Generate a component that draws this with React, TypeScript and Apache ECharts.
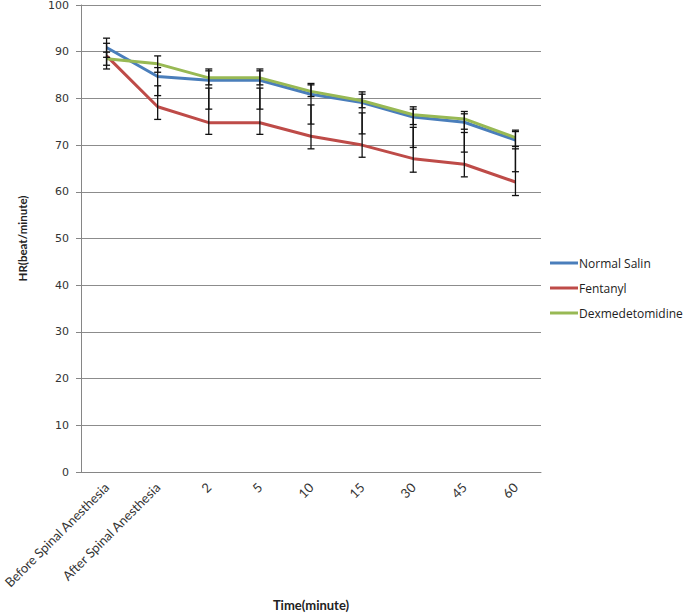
import React, { useEffect, useRef } from "react";
import * as echarts from "echarts";

const categories = [
  "Before Spinal Anesthesia",
  "After Spinal Anesthesia",
  "2",
  "5",
  "10",
  "15",
  "30",
  "45",
  "60",
];
const yTicks = { min: 0, max: 100, interval: 10 };

const normalSalin = [90.9, 84.7, 83.9, 83.9, 80.9, 79.1, 76.0, 74.9, 71.1];
const fentanyl = [89.1, 78.2, 74.8, 74.8, 71.9, 70.0, 67.1, 65.9, 62.1];
const dexmedetomidine = [88.5, 87.4, 84.4, 84.4, 81.5, 79.5, 76.5, 75.6, 71.6];

// error-bar ends (low / high)
const normalSalinLow = [88.8, 80.6, 77.7, 77.7, 74.5, 72.4, 69.5, 68.5, 64.3];
const normalSalinHigh = [92.9, 86.6, 85.9, 85.9, 82.9, 80.9, 77.7, 76.7, 72.9];
const fentanylLow = [86.3, 75.5, 72.3, 72.3, 69.2, 67.4, 64.2, 63.2, 59.2];
const fentanylHigh = [89.9, 82.7, 82.2, 82.2, 78.6, 76.9, 73.8, 72.7, 69.2];
const dexmedetomidineLow = [87.1, 85.6, 82.9, 82.9, 80.4, 78.0, 74.4, 73.4, 69.7];
const dexmedetomidineHigh = [91.8, 89.1, 86.3, 86.3, 83.2, 81.4, 78.2, 77.2, 73.2];

const seriesDefs = [
  { name: "Normal Salin", values: normalSalin, low: normalSalinLow, high: normalSalinHigh, color: "#4a7ebb" },
  { name: "Fentanyl", values: fentanyl, low: fentanylLow, high: fentanylHigh, color: "#be4b48" },
  { name: "Dexmedetomidine", values: dexmedetomidine, low: dexmedetomidineLow, high: dexmedetomidineHigh, color: "#98b954" },
];

export default function App() {
  const ref = useRef<HTMLDivElement>(null);

  useEffect(() => {
    if (!ref.current) return;
    const chart = echarts.init(ref.current, null, { renderer: "svg" });

    const lineSeries = seriesDefs.map((s) => ({
      name: s.name,
      type: "line",
      data: s.values,
      showSymbol: false,
      symbol: "none",
      lineStyle: { color: s.color, width: 3 },
      itemStyle: { color: s.color },
      z: 2,
    }));

    const errSeries = seriesDefs.map((s) => ({
      name: s.name + " error",
      type: "custom",
      z: 5,
      data: s.values.map((v, i) => [i, s.low[i], s.high[i]]),
      encode: { x: 0, y: [1, 2] },
      renderItem: (params: any, api: any) => {
        const idx = api.value(0);
        const lo = api.coord([idx, api.value(1)]);
        const hi = api.coord([idx, api.value(2)]);
        const hw = 3.5;
        const style = { stroke: "#111", lineWidth: 1.3 };
        return {
          type: "group",
          children: [
            { type: "line", shape: { x1: lo[0], y1: lo[1], x2: hi[0], y2: hi[1] }, style },
            { type: "line", shape: { x1: lo[0] - hw, y1: lo[1], x2: lo[0] + hw, y2: lo[1] }, style },
            { type: "line", shape: { x1: hi[0] - hw, y1: hi[1], x2: hi[0] + hw, y2: hi[1] }, style },
          ],
        };
      },
    }));

    chart.setOption({
      animation: false,
      backgroundColor: "#ffffff",
      grid: {
        left: 81,
        right: 144,
        top: 5,
        bottom: 143,
        containLabel: false,
        outerBoundsMode: "none",
      },
      legend: {
        orient: "vertical",
        left: 545,
        top: 251,
        itemGap: 11,
        itemWidth: 28,
        itemHeight: 3,
        icon: "rect",
        data: seriesDefs.map((s) => ({ name: s.name, itemStyle: { color: s.color } })),
        textStyle: { fontFamily: "Open Sans", fontSize: 12, color: "#222", lineHeight: 14, padding: [0, 0, 0, -4] },
      },
      xAxis: {
        type: "category",
        data: categories,
        boundaryGap: true,
        name: "Time(minute)",
        nameLocation: "middle",
        nameGap: 126,
        nameTextStyle: { fontFamily: "Lato", fontSize: 13, fontWeight: "bold", color: "#222" },
        axisLine: { show: true, lineStyle: { color: "#868686", width: 1 } },
        axisTick: { show: false },
        axisLabel: { rotate: 45, interval: 0, margin: 13, fontFamily: "Lato", fontSize: 13, color: "#333" },
        splitLine: { show: false },
      },
      yAxis: {
        type: "value",
        min: yTicks.min,
        max: yTicks.max,
        interval: yTicks.interval,
        name: "HR(beat/minute)",
        nameLocation: "middle",
        nameGap: 53,
        nameRotate: 90,
        nameTextStyle: { fontFamily: "Lato", fontSize: 11.5, fontWeight: "bold", color: "#222" },
        axisLine: { show: true, lineStyle: { color: "#868686", width: 1 } },
        axisTick: { show: true, length: 5, inside: false, lineStyle: { color: "#868686" } },
        axisLabel: { margin: 12, fontFamily: "DejaVu Sans", fontSize: 11, color: "#333" },
        splitLine: { show: true, lineStyle: { color: "#8c8c8c", width: 1 } },
      },
      series: [...lineSeries, ...errSeries],
    });

    return () => chart.dispose();
  }, []);

  return (
    <div
      ref={ref}
      style={{ position: "fixed", left: 0, top: 0, width: 685, height: 615, background: "#fff" }}
    />
  );
}
